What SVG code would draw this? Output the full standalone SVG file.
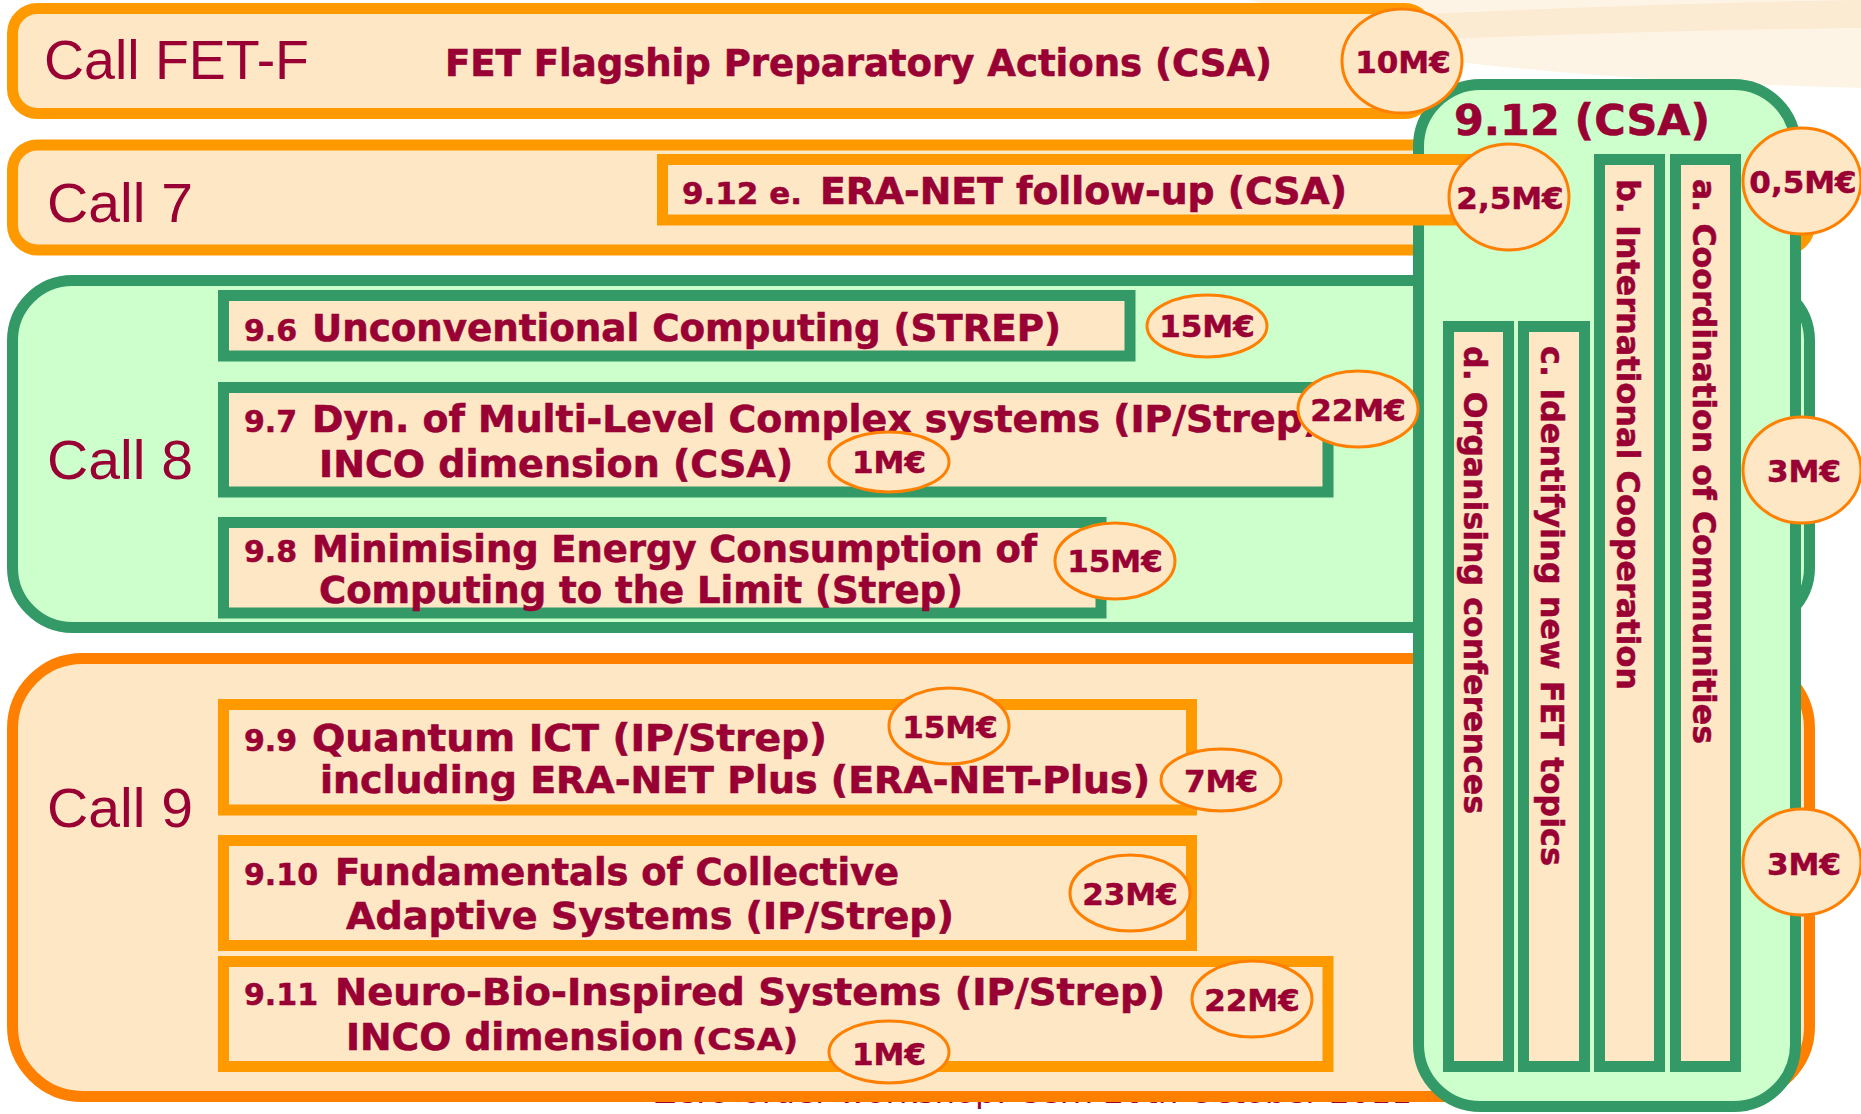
<svg xmlns="http://www.w3.org/2000/svg" width="1861" height="1114" viewBox="0 0 1861 1114">
  <style>
    .call { font-family: "Liberation Sans", Arial, sans-serif; font-size: 55px; fill: #990033; }
    .t { font-family: "DejaVu Sans", Verdana, sans-serif; font-weight: bold; font-size: 37px; fill: #990033; stroke: #990033; stroke-width: 0.6px; }
    .n { font-family: "DejaVu Sans", Verdana, sans-serif; font-weight: bold; font-size: 30px; fill: #990033; stroke: #990033; stroke-width: 0.5px; }
    .m { font-family: "DejaVu Sans", Verdana, sans-serif; font-weight: bold; font-size: 31px; fill: #990033; stroke: #990033; stroke-width: 0.5px; text-anchor: middle; }
    .v { font-family: "DejaVu Sans", Verdana, sans-serif; font-weight: bold; font-size: 32px; fill: #990033; stroke: #990033; stroke-width: 0.5px; }
    .foot { font-family: "DejaVu Sans", Verdana, sans-serif; font-size: 30px; fill: #990033; }
    .box-o { fill: #FEE7C5; stroke: #FF9900; stroke-width: 11; }
    .box-g { fill: #FEE7C5; stroke: #339966; stroke-width: 11; }
    .money { fill: #FEE7C5; stroke: #FF8000; stroke-width: 3; }
  </style>

  <!-- page background and template swoosh -->
  <rect x="0" y="0" width="1861" height="1114" fill="#FFFFFF"/>
  <path d="M1250,0 H1861 V88 C1700,84 1560,74 1440,60 Z" fill="#FEF4E6"/>
  <path d="M1420,14 C1560,8 1720,2 1861,0 V28 C1720,30 1560,34 1420,40 Z" fill="#FCEBD3"/>

  <!-- footer line, mostly covered by the Call 9 panel -->
  <text class="foot" x="654" y="1103" textLength="758" lengthAdjust="spacingAndGlyphs">Zero-order workshop: Cern 20th October 2011</text>

  <!-- call panels -->
  <g id="call-7">
    <rect x="12.5" y="145" width="1797" height="105" rx="25" class="box-o"/>
    <text class="call" x="47" y="222" textLength="146" lengthAdjust="spacingAndGlyphs">Call 7</text>
  </g>
  <g id="call-8">
    <rect x="12.5" y="280.5" width="1797" height="347" rx="60" fill="#CCFFCC" stroke="#339966" stroke-width="11"/>
    <text class="call" x="47" y="479" textLength="146" lengthAdjust="spacingAndGlyphs">Call 8</text>
  </g>
  <g id="call-9">
    <rect x="12.5" y="658.5" width="1797" height="438" rx="70" fill="#FEE7C5" stroke="#FF8000" stroke-width="11"/>
    <text class="call" x="47" y="827" textLength="146" lengthAdjust="spacingAndGlyphs">Call 9</text>
  </g>

  <!-- 9.12 coordination & support panel -->
  <g id="csa-9-12">
    <rect x="1418.5" y="84.5" width="377" height="1022" rx="62" fill="#CCFFCC" stroke="#339966" stroke-width="11"/>
    <text class="t" x="1454" y="135" style="font-size:42px" textLength="256" lengthAdjust="spacingAndGlyphs">9.12 (CSA)</text>
  </g>
  <g id="csa-9-12-d">
    <rect x="1448.5" y="326.5" width="60" height="740" class="box-g"/>
    <text class="v" transform="translate(1464,346) rotate(90)" textLength="468" lengthAdjust="spacingAndGlyphs">d. Organising conferences</text>
  </g>
  <g id="csa-9-12-c">
    <rect x="1523.5" y="326.5" width="61" height="740" class="box-g"/>
    <text class="v" transform="translate(1541,346) rotate(90)" textLength="520" lengthAdjust="spacingAndGlyphs">c. Identifying new FET topics</text>
  </g>
  <g id="csa-9-12-b">
    <rect x="1599.5" y="159.5" width="60" height="907" class="box-g"/>
    <text class="v" transform="translate(1617,179) rotate(90)" textLength="511" lengthAdjust="spacingAndGlyphs">b. International Cooperation</text>
  </g>
  <g id="csa-9-12-a">
    <rect x="1675.5" y="159.5" width="60" height="907" class="box-g"/>
    <text class="v" transform="translate(1693,179) rotate(90)" textLength="565" lengthAdjust="spacingAndGlyphs">a. Coordination of Communities</text>
  </g>

  <!-- flagship call -->
  <g id="call-fet-f">
    <rect x="12.5" y="8.5" width="1417" height="105" rx="25" class="box-o"/>
    <text class="call" x="44" y="79" textLength="265" lengthAdjust="spacingAndGlyphs">Call FET-F</text>
    <text class="t" x="445" y="76" textLength="827" lengthAdjust="spacingAndGlyphs">FET Flagship Preparatory Actions (CSA)</text>
    <ellipse cx="1402" cy="61" rx="60" ry="52" class="money"/>
    <text class="m" x="1403" y="73">10M€</text>
  </g>

  <!-- call 7 topic -->
  <g id="topic-9-12-e">
    <rect x="662.5" y="159.5" width="817.5" height="60.5" class="box-o"/>
    <text class="n" x="682" y="204" textLength="120" lengthAdjust="spacingAndGlyphs">9.12 e.</text>
    <text class="t" x="820" y="204" textLength="527" lengthAdjust="spacingAndGlyphs">ERA-NET follow-up (CSA)</text>
    <ellipse cx="1509" cy="197" rx="60" ry="53" class="money"/>
    <text class="m" x="1510" y="209">2,5M€</text>
  </g>

  <!-- call 8 topics -->
  <g id="topic-9-6">
    <rect x="223.5" y="295.5" width="906.5" height="60.5" class="box-g"/>
    <text class="n" x="244" y="341">9.6</text>
    <text class="t" x="312" y="341" textLength="749" lengthAdjust="spacingAndGlyphs">Unconventional Computing (STREP)</text>
    <ellipse cx="1207" cy="326" rx="60" ry="31" class="money"/>
    <text class="m" x="1207" y="337">15M€</text>
  </g>
  <g id="topic-9-7">
    <rect x="223.5" y="387.5" width="1104.5" height="104.5" class="box-g"/>
    <text class="n" x="244" y="432">9.7</text>
    <text class="t" x="312" y="432" textLength="1008" lengthAdjust="spacingAndGlyphs">Dyn. of Multi-Level Complex systems (IP/Strep)</text>
    <text class="t" x="319" y="477" textLength="474" lengthAdjust="spacingAndGlyphs">INCO dimension (CSA)</text>
    <ellipse cx="889" cy="462" rx="60" ry="30" class="money"/>
    <text class="m" x="889" y="473">1M€</text>
    <ellipse cx="1358" cy="409" rx="60" ry="38" class="money"/>
    <text class="m" x="1358" y="421">22M€</text>
  </g>
  <g id="topic-9-8">
    <rect x="223.5" y="522.5" width="877.5" height="90.5" class="box-g"/>
    <text class="n" x="244" y="562">9.8</text>
    <text class="t" x="312" y="562" textLength="725" lengthAdjust="spacingAndGlyphs">Minimising Energy Consumption of</text>
    <text class="t" x="319" y="603" textLength="644" lengthAdjust="spacingAndGlyphs">Computing to the Limit (Strep)</text>
    <ellipse cx="1115" cy="561" rx="60" ry="38" class="money"/>
    <text class="m" x="1115" y="572">15M€</text>
  </g>

  <!-- call 9 topics -->
  <g id="topic-9-9">
    <rect x="223.5" y="704.5" width="968" height="105.5" class="box-o"/>
    <text class="n" x="244" y="751">9.9</text>
    <text class="t" x="312" y="751" textLength="515" lengthAdjust="spacingAndGlyphs">Quantum ICT (IP/Strep)</text>
    <text class="t" x="320" y="793" textLength="830" lengthAdjust="spacingAndGlyphs">including ERA-NET Plus (ERA-NET-Plus)</text>
    <ellipse cx="949" cy="726" rx="60" ry="38" class="money"/>
    <text class="m" x="950" y="738">15M€</text>
    <ellipse cx="1221" cy="780" rx="60" ry="31" class="money"/>
    <text class="m" x="1221" y="792">7M€</text>
  </g>
  <g id="topic-9-10">
    <rect x="223.5" y="840.5" width="968" height="105" class="box-o"/>
    <text class="n" x="244" y="885">9.10</text>
    <text class="t" x="335" y="885" textLength="564" lengthAdjust="spacingAndGlyphs">Fundamentals of Collective</text>
    <text class="t" x="346" y="929" textLength="608" lengthAdjust="spacingAndGlyphs">Adaptive Systems (IP/Strep)</text>
    <ellipse cx="1130" cy="893" rx="60" ry="38" class="money"/>
    <text class="m" x="1130" y="905">23M€</text>
  </g>
  <g id="topic-9-11">
    <rect x="223.5" y="961.5" width="1104.5" height="105" class="box-o"/>
    <text class="n" x="244" y="1005">9.11</text>
    <text class="t" x="335" y="1005" textLength="830" lengthAdjust="spacingAndGlyphs">Neuro-Bio-Inspired Systems (IP/Strep)</text>
    <text class="t" x="346" y="1050" textLength="338" lengthAdjust="spacingAndGlyphs">INCO dimension</text>
    <text class="n" x="692" y="1050" textLength="106" lengthAdjust="spacingAndGlyphs">(CSA)</text>
    <ellipse cx="1252" cy="999" rx="60" ry="38" class="money"/>
    <text class="m" x="1252" y="1011">22M€</text>
    <ellipse cx="889" cy="1052" rx="60" ry="31" class="money"/>
    <text class="m" x="889" y="1065">1M€</text>
  </g>

  <!-- 9.12 budget split -->
  <g id="budget-9-12">
    <ellipse cx="1802" cy="181" rx="59" ry="53" class="money"/>
    <text class="m" x="1803" y="193">0,5M€</text>
    <ellipse cx="1802" cy="470" rx="59" ry="53" class="money"/>
    <text class="m" x="1804" y="482">3M€</text>
    <ellipse cx="1802" cy="862" rx="59" ry="53" class="money"/>
    <text class="m" x="1804" y="875">3M€</text>
  </g>
</svg>
